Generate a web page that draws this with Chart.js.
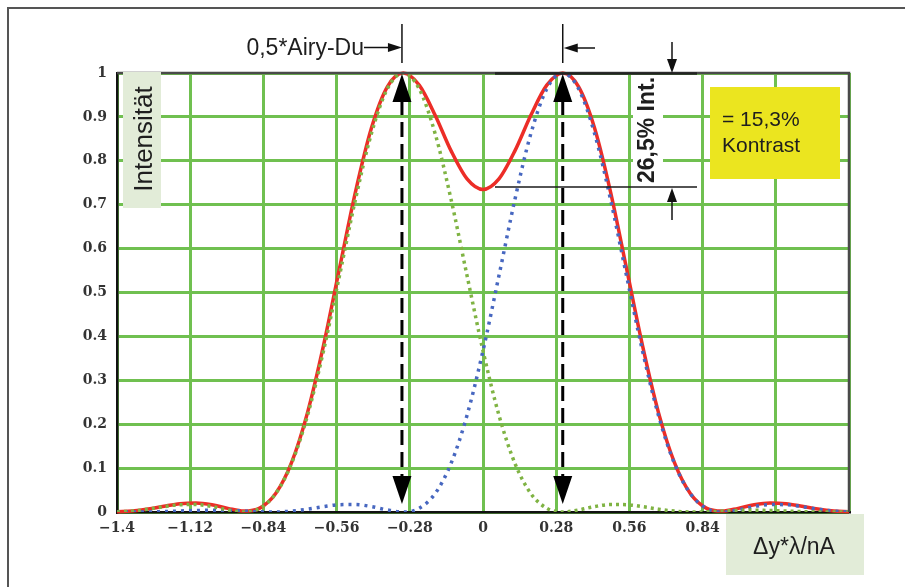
<!DOCTYPE html>
<html>
<head>
<meta charset="utf-8">
<script src="https://cdn.jsdelivr.net/npm/chart.js@4.4.1/dist/chart.umd.min.js"></script>
<style>
  body { margin: 0; background: #fff; }
  #wrap { width: 905px; height: 587px; }
</style>
</head>
<body>
<div id="wrap"><canvas id="airyChart" width="905" height="587"></canvas></div>
<script>
// x in units of lambda/nA, sampled every 0.061
var xValues = [-1.4, -1.342, -1.281, -1.22, -1.159, -1.098, -1.037, -0.976, -0.915, -0.854,
  -0.793, -0.732, -0.671, -0.61, -0.549, -0.488, -0.427, -0.366, -0.305, -0.244,
  -0.183, -0.122, -0.061, 0, 0.061, 0.122, 0.183, 0.244, 0.305, 0.366,
  0.427, 0.488, 0.549, 0.61, 0.671, 0.732, 0.793, 0.854, 0.915, 0.976,
  1.037, 1.098, 1.159, 1.22, 1.281, 1.342, 1.4];

// left spot (green dotted)
var leftSpot = [0.0001, 0.0021, 0.0065, 0.0122, 0.0166, 0.0170, 0.0124, 0.0047, 0, 0.0085,
  0.0420, 0.1109, 0.2205, 0.3673, 0.5382, 0.7117, 0.8618, 0.9638, 1, 0.9638,
  0.8618, 0.7117, 0.5382, 0.3673, 0.2205, 0.1109, 0.0420, 0.0085, 0, 0.0047,
  0.0124, 0.0170, 0.0166, 0.0122, 0.0065, 0.0021, 0.0001, 0.0004, 0.0020, 0.0036,
  0.0041, 0.0034, 0.0023, 0.0010, 0.0001, 0.0001, 0.0005];

// right spot (blue dotted)
var rightSpot = [0.0005, 0.0001, 0.0001, 0.0010, 0.0023, 0.0034, 0.0041, 0.0036, 0.0020, 0.0004,
  0.0001, 0.0021, 0.0065, 0.0122, 0.0166, 0.0170, 0.0124, 0.0047, 0, 0.0085,
  0.0420, 0.1109, 0.2205, 0.3673, 0.5382, 0.7117, 0.8618, 0.9638, 1, 0.9638,
  0.8618, 0.7117, 0.5382, 0.3673, 0.2205, 0.1109, 0.0420, 0.0085, 0, 0.0047,
  0.0124, 0.0170, 0.0166, 0.0122, 0.0065, 0.0021, 0.0001];

// both spots together (red)
var sumCurve = [0.0006, 0.0022, 0.0066, 0.0132, 0.0189, 0.0204, 0.0165, 0.0083, 0.0020, 0.0089,
  0.0421, 0.1130, 0.2270, 0.3795, 0.5548, 0.7287, 0.8742, 0.9685, 1, 0.9723,
  0.9038, 0.8226, 0.7587, 0.7346, 0.7587, 0.8226, 0.9038, 0.9723, 1, 0.9685,
  0.8742, 0.7287, 0.5548, 0.3795, 0.2270, 0.1130, 0.0421, 0.0089, 0.0020, 0.0083,
  0.0165, 0.0204, 0.0189, 0.0132, 0.0066, 0.0022, 0.0006];

var xTicks = [-1.4, -1.12, -0.84, -0.56, -0.28, 0, 0.28, 0.56, 0.84, 1.12, 1.4];
var yTicks = [0, 0.1, 0.2, 0.3, 0.4, 0.5, 0.6, 0.7, 0.8, 0.9, 1];
var peakMarks = [-0.31, 0.305];

function pts(ys) {
  return xValues.map(function (x, i) { return { x: x, y: ys[i] }; });
}

function tri(c, x1, y1, x2, y2, x3, y3) {
  c.beginPath();
  c.moveTo(x1, y1); c.lineTo(x2, y2); c.lineTo(x3, y3);
  c.closePath();
  c.fill();
}

function line(c, x1, y1, x2, y2, w, col) {
  c.save();
  c.strokeStyle = col || "#111";
  c.lineWidth = w;
  c.beginPath();
  c.moveTo(x1, y1); c.lineTo(x2, y2);
  c.stroke();
  c.restore();
}

function vText(c, txt, bx, cy, font) {
  c.save();
  c.translate(bx, cy);
  c.rotate(-Math.PI / 2);
  c.font = font;
  c.textAlign = "center";
  c.textBaseline = "alphabetic";
  c.fillStyle = "#1e1e1e";
  c.fillText(txt, 0, 0);
  c.restore();
}

var overlay = {
  id: "overlay",
  beforeDraw: function (chart) {
    var c = chart.ctx;
    c.save();
    c.fillStyle = "#fff";
    c.fillRect(0, 0, chart.width, chart.height);
    c.restore();
    line(c, 8, 7, 8, 587, 2, "#555");
    line(c, 7, 8, 905, 8, 2, "#555");
  },
  afterDraw: function (chart) {
    var c = chart.ctx;
    var a = chart.chartArea;
    var xs = chart.scales.x;

    // top / right frame of the plot
    c.save();
    c.strokeStyle = "#4a4a4a";
    c.lineWidth = 2.5;
    c.beginPath();
    c.moveTo(a.left, a.top); c.lineTo(a.right, a.top); c.lineTo(a.right, a.bottom);
    c.stroke();
    c.restore();

    // dashed double arrows at both peaks
    c.save();
    c.fillStyle = "#000";
    peakMarks.forEach(function (v) {
      var px = xs.getPixelForValue(v);
      c.save();
      c.strokeStyle = "#000";
      c.lineWidth = 3;
      c.setLineDash([15, 7]);
      c.beginPath();
      c.moveTo(px, 100); c.lineTo(px, 478);
      c.stroke();
      c.restore();
      tri(c, px, 74, px - 9.5, 102, px + 9.5, 102);
      tri(c, px, 504, px - 9.5, 476, px + 9.5, 476);
    });
    c.restore();

    var xl = xs.getPixelForValue(peakMarks[0]);
    var xr = xs.getPixelForValue(peakMarks[1]);

    // "0,5*Airy-Du" dimension marks
    c.save();
    c.fillStyle = "#1e1e1e";
    c.font = "23px Arial, 'Liberation Sans', sans-serif";
    c.textAlign = "right";
    c.fillText("0,5*Airy-Du", 364, 55);
    c.restore();
    line(c, xl, 24, xl, 63, 1.5);
    line(c, 364, 47.5, xl - 12, 47.5, 1.5);
    c.fillStyle = "#111";
    tri(c, xl, 47.5, xl - 14, 43, xl - 14, 52);
    line(c, xr, 24, xr, 63, 1.5);
    line(c, xr + 12, 48, 595, 48, 1.5);
    tri(c, xr + 1, 48, xr + 15, 43.5, xr + 15, 52.5);

    // contrast markers
    line(c, 495, 73.5, 697, 73.5, 2.5, "#222");
    line(c, 495, 187, 697, 187, 1.3, "#1a1a1a");
    c.save();
    c.fillStyle = "#fff";
    c.fillRect(633, 75, 30, 111);
    c.restore();
    vText(c, "26,5% Int.", 654, 130, "bold 23px Arial, 'Liberation Sans', sans-serif");
    c.fillStyle = "#111";
    line(c, 672, 42, 672, 61, 1.5);
    tri(c, 672, 73, 667, 59, 677, 59);
    line(c, 672, 200, 672, 220, 1.5);
    tri(c, 672, 188, 667, 202, 677, 202);

    // yellow box
    c.save();
    c.fillStyle = "#ebe51f";
    c.fillRect(710, 87, 130, 92);
    c.fillStyle = "#1e1e1e";
    c.font = "21px Arial, 'Liberation Sans', sans-serif";
    c.textAlign = "left";
    c.fillText("= 15,3%", 722, 126);
    c.fillText("Kontrast", 722, 152);
    c.restore();

    // axis title boxes
    c.save();
    c.fillStyle = "#e2ecd8";
    c.fillRect(123, 72, 38, 136);
    c.fillRect(726, 514, 138, 61);
    c.restore();
    vText(c, "Intensität", 151.5, 139, "26px Arial, 'Liberation Sans', sans-serif");
    c.save();
    c.fillStyle = "#1e1e1e";
    c.font = "23px Arial, 'Liberation Sans', sans-serif";
    c.textAlign = "center";
    c.fillText("\u0394y*\u03bb/nA", 794, 554);
    c.restore();
  }
};

var tickFont = { family: "'DejaVu Serif', serif", size: 14, weight: "bold" };

var chart = new Chart(document.getElementById("airyChart").getContext("2d"), {
  type: "line",
  data: {
    datasets: [
      {
        label: "links",
        data: pts(leftSpot),
        borderColor: "#7fb343",
        borderWidth: 3.5,
        borderDash: [3, 4],
        pointRadius: 0,
        cubicInterpolationMode: "monotone",
        fill: false
      },
      {
        label: "rechts",
        data: pts(rightSpot),
        borderColor: "#4767c0",
        borderWidth: 3.5,
        borderDash: [3, 5],
        pointRadius: 0,
        cubicInterpolationMode: "monotone",
        fill: false
      },
      {
        label: "Summe",
        data: pts(sumCurve),
        borderColor: "#ec2d27",
        borderWidth: 3.5,
        pointRadius: 0,
        cubicInterpolationMode: "monotone",
        fill: false,
        clip: 4
      }
    ]
  },
  options: {
    responsive: false,
    animation: false,
    layout: { padding: { top: 73, right: 56, left: 0, bottom: 0 } },
    plugins: {
      legend: { display: false },
      tooltip: { enabled: false }
    },
    scales: {
      x: {
        type: "linear",
        min: -1.4,
        max: 1.4,
        afterFit: function (s) { s.height = 75; },
        afterBuildTicks: function (s) { s.ticks = xTicks.map(function (v) { return { value: v }; }); },
        grid: { color: "#70c050", lineWidth: 3, drawTicks: false },
        border: { color: "#111", width: 2.5 },
        ticks: {
          autoSkip: false,
          maxRotation: 0,
          padding: 8,
          color: "#333",
          font: tickFont,
          callback: function (v) { return v < 0 ? "\u2212" + Math.abs(v) : String(v); }
        }
      },
      y: {
        min: 0,
        max: 1,
        afterFit: function (s) { s.width = 117; },
        afterBuildTicks: function (s) { s.ticks = yTicks.map(function (v) { return { value: v }; }); },
        grid: { color: "#70c050", lineWidth: 3, drawTicks: false },
        border: { color: "#111", width: 2.5 },
        ticks: {
          padding: 10,
          color: "#333",
          font: tickFont,
          callback: function (v) { return String(v); }
        }
      }
    }
  },
  plugins: [overlay]
});
</script>
</body>
</html>
